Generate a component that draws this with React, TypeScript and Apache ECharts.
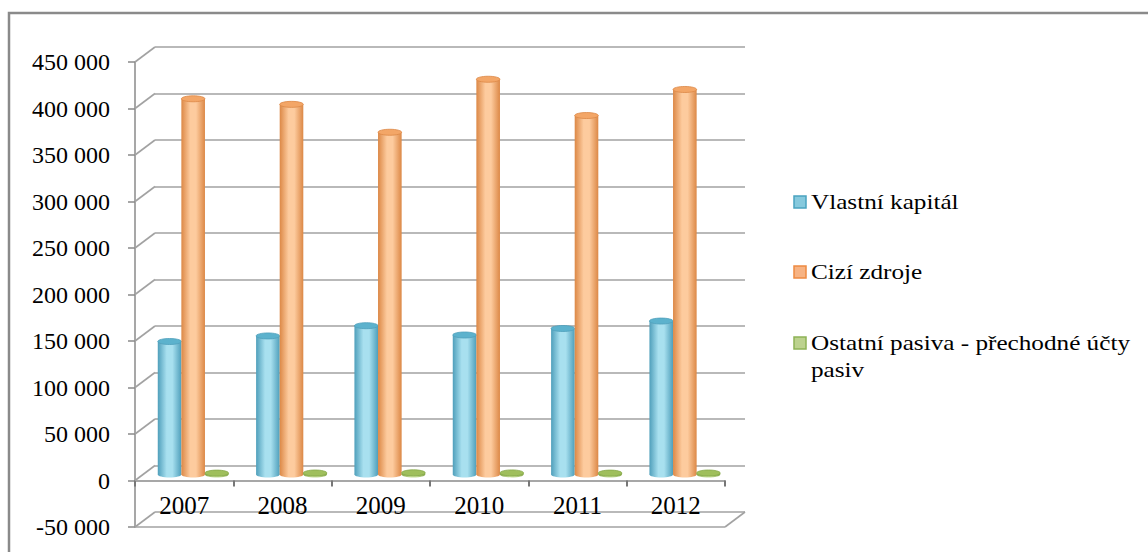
import React, { useEffect, useRef } from "react";
import * as echarts from "echarts";

// Balance-sheet liabilities by year (thousands CZK)
const years = ["2007", "2008", "2009", "2010", "2011", "2012"];
const vlastniKapital = [143000, 149000, 160000, 150000, 157000, 165000];
const ciziZdroje = [404000, 398000, 368000, 425000, 386000, 414000];
const ostatniPasiva = [1500, 1600, 1800, 1700, 1500, 1600];
const seriesNames = [
  "Vlastní kapitál",
  "Cizí zdroje",
  "Ostatní pasiva - přechodné účty pasiv",
];
const yTicks = [-50000, 0, 50000, 100000, 150000, 200000, 250000, 300000, 350000, 400000, 450000];
const Y_MIN = -50000;
const Y_MAX = 450000;
const Y_STEP = 50000;

// pseudo-3D depth of the plot box and of the bar row inside it
const DEPTH_X = 20;
const DEPTH_Y = 15;
const BAR_SHIFT_X = 9;
const BAR_SHIFT_Y = 6;

const FRONT = { left: 135, top: 62, width: 590, height: 465 };
const GRID_COLOR = "#a2a2a2";
const AXIS_COLOR = "#8a8a8a";
const SERIF = "Liberation Serif";

const palettes = [
  { edge: "#4f9fbb", light: "#a8e0ef", cap: "#5cb2cd", icon: "#86c9dd", iconStroke: "#4aa3c0" },
  { edge: "#dc8846", light: "#fdcb9e", cap: "#f3a667", icon: "#f7b383", iconStroke: "#ee8b42" },
  { edge: "#86a84a", light: "#c6de98", cap: "#9fbf5c", icon: "#bcd28e", iconStroke: "#8db255" },
];

const formatTick = (v: number) => {
  const s = Math.abs(v)
    .toString()
    .replace(/\B(?=(\d{3})+(?!\d))/g, " ");
  return (v < 0 ? "-" : "") + s;
};

const makeBarRender = (slot: number, pal: (typeof palettes)[number]) => (params: any, api: any) => {
  const cat = api.value(0);
  const val = api.value(1);
  const top = api.coord([cat, val]);
  const base = api.coord([cat, 0]);
  const band = api.size([1, 0])[0];
  const w = band * 0.24;
  const x = top[0] - 1.5 * w + slot * w + BAR_SHIFT_X;
  const yTop = top[1] - BAR_SHIFT_Y;
  const yBase = base[1] - BAR_SHIFT_Y;
  const ry = 3;
  const grad = () =>
    new echarts.graphic.LinearGradient(0, 0, 1, 0, [
      { offset: 0, color: pal.edge },
      { offset: 0.38, color: pal.light },
      { offset: 0.62, color: pal.light },
      { offset: 1, color: pal.edge },
    ]);
  return {
    type: "group",
    children: [
      { type: "ellipse", shape: { cx: x + w / 2, cy: yBase, rx: w / 2, ry }, style: { fill: grad() } },
      { type: "rect", shape: { x, y: yTop, width: w, height: Math.max(yBase - yTop, 0) }, style: { fill: grad() } },
      {
        type: "ellipse",
        shape: { cx: x + w / 2, cy: yTop, rx: w / 2, ry },
        style: { fill: pal.cap, stroke: pal.edge, lineWidth: 0.8 },
      },
    ],
  };
};

const renderDepthLines = (params: any, api: any) => {
  const cs = params.coordSys;
  const v = api.value(1);
  const y = api.coord([0, v])[1];
  const style = { stroke: GRID_COLOR, lineWidth: 1.6 };
  const children: any[] = [
    { type: "line", shape: { x1: cs.x, y1: y, x2: cs.x + DEPTH_X, y2: y - DEPTH_Y }, style },
  ];
  if (v === Y_MIN) {
    children.push(
      { type: "line", shape: { x1: cs.x, y1: y, x2: cs.x + cs.width, y2: y }, style },
      {
        type: "line",
        shape: { x1: cs.x + cs.width, y1: y, x2: cs.x + cs.width + DEPTH_X, y2: y - DEPTH_Y },
        style,
      }
    );
  }
  return { type: "group", children };
};

const legendGraphic = () => {
  const items = [
    { name: seriesNames[0], y: 202 },
    { name: seriesNames[1], y: 272 },
    { name: "Ostatní pasiva - přechodné účty\npasiv", y: 343 },
  ];
  const children: any[] = [];
  items.forEach((it, i) => {
    const pal = palettes[i];
    children.push({
      type: "rect",
      shape: { x: 794, y: it.y - 6, width: 12, height: 12 },
      style: { fill: pal.icon, stroke: pal.iconStroke, lineWidth: 1.5 },
    });
    children.push({
      type: "text",
      x: 811,
      y: it.y - 13.5,
      scaleX: 1.2,
      style: {
        text: it.name,
        fontFamily: SERIF,
        fontSize: 21,
        fill: "#000",
        verticalAlign: "top",
        lineHeight: 27,
      },
    });
  });
  return children;
};

export default function App() {
  const ref = useRef<HTMLDivElement>(null);

  useEffect(() => {
    if (!ref.current) return;
    const chart = echarts.init(ref.current, null, { renderer: "svg" });
    const barData = [vlastniKapital, ciziZdroje, ostatniPasiva];

    chart.setOption({
      animation: false,
      backgroundColor: "#ffffff",
      grid: [
        { ...FRONT, containLabel: false, outerBoundsMode: "none" },
        {
          left: FRONT.left + DEPTH_X,
          top: FRONT.top - DEPTH_Y,
          width: FRONT.width,
          height: FRONT.height,
          containLabel: false,
          outerBoundsMode: "none",
        },
      ],
      xAxis: [
        {
          // zero line with category ticks
          type: "category",
          gridIndex: 0,
          data: years,
          axisLine: { onZero: true, lineStyle: { color: AXIS_COLOR, width: 1.5 } },
          axisTick: { show: true, length: 6, lineStyle: { color: "#777", width: 2 } },
          axisLabel: { show: false },
          splitLine: { show: false },
        },
        { type: "category", gridIndex: 1, data: years, show: false },
        {
          // year labels lying on the floor
          type: "category",
          gridIndex: 0,
          position: "bottom",
          data: years,
          axisLine: { show: false, onZero: false },
          axisTick: { show: false },
          axisLabel: { margin: -34, color: "#000", fontFamily: SERIF, fontSize: 25 },
          splitLine: { show: false },
        },
      ],
      yAxis: [
        {
          type: "value",
          gridIndex: 0,
          min: Y_MIN,
          max: Y_MAX,
          interval: Y_STEP,
          axisLine: { show: true, lineStyle: { color: AXIS_COLOR, width: 1.5 } },
          axisTick: { show: true, length: 7, lineStyle: { color: AXIS_COLOR, width: 1.5 } },
          axisLabel: {
            margin: 25,
            color: "#000",
            fontFamily: SERIF,
            fontSize: 24,
            formatter: (v: number) => formatTick(v),
          },
          splitLine: { show: false },
        },
        {
          type: "value",
          gridIndex: 1,
          min: Y_MIN,
          max: Y_MAX,
          interval: Y_STEP,
          axisLine: { show: false },
          axisTick: { show: false },
          axisLabel: { show: false },
          splitLine: { show: true, lineStyle: { color: GRID_COLOR, width: 1.6 } },
        },
      ],
      series: [
        {
          type: "custom",
          name: "depth",
          xAxisIndex: 0,
          yAxisIndex: 0,
          silent: true,
          z: 1,
          data: yTicks.map((v) => [0, v]),
          renderItem: renderDepthLines,
        },
        ...barData.map((values, i) => ({
          type: "custom",
          name: seriesNames[i],
          xAxisIndex: 0,
          yAxisIndex: 0,
          z: 5 + i,
          data: values.map((v, k) => [k, v]),
          renderItem: makeBarRender(i, palettes[i]),
        })),
      ],
      graphic: [
        {
          type: "rect",
          silent: true,
          shape: { x: 9, y: 13, width: 1300, height: 700 },
          style: { fill: "none", stroke: "#8a8a8a", lineWidth: 2.5 },
        },
        ...legendGraphic(),
      ],
    });

    return () => chart.dispose();
  }, []);

  return (
    <div style={{ position: "fixed", left: 0, top: 0, width: 1148, height: 552, background: "#fff" }}>
      <div ref={ref} style={{ width: 1148, height: 552 }} />
    </div>
  );
}
